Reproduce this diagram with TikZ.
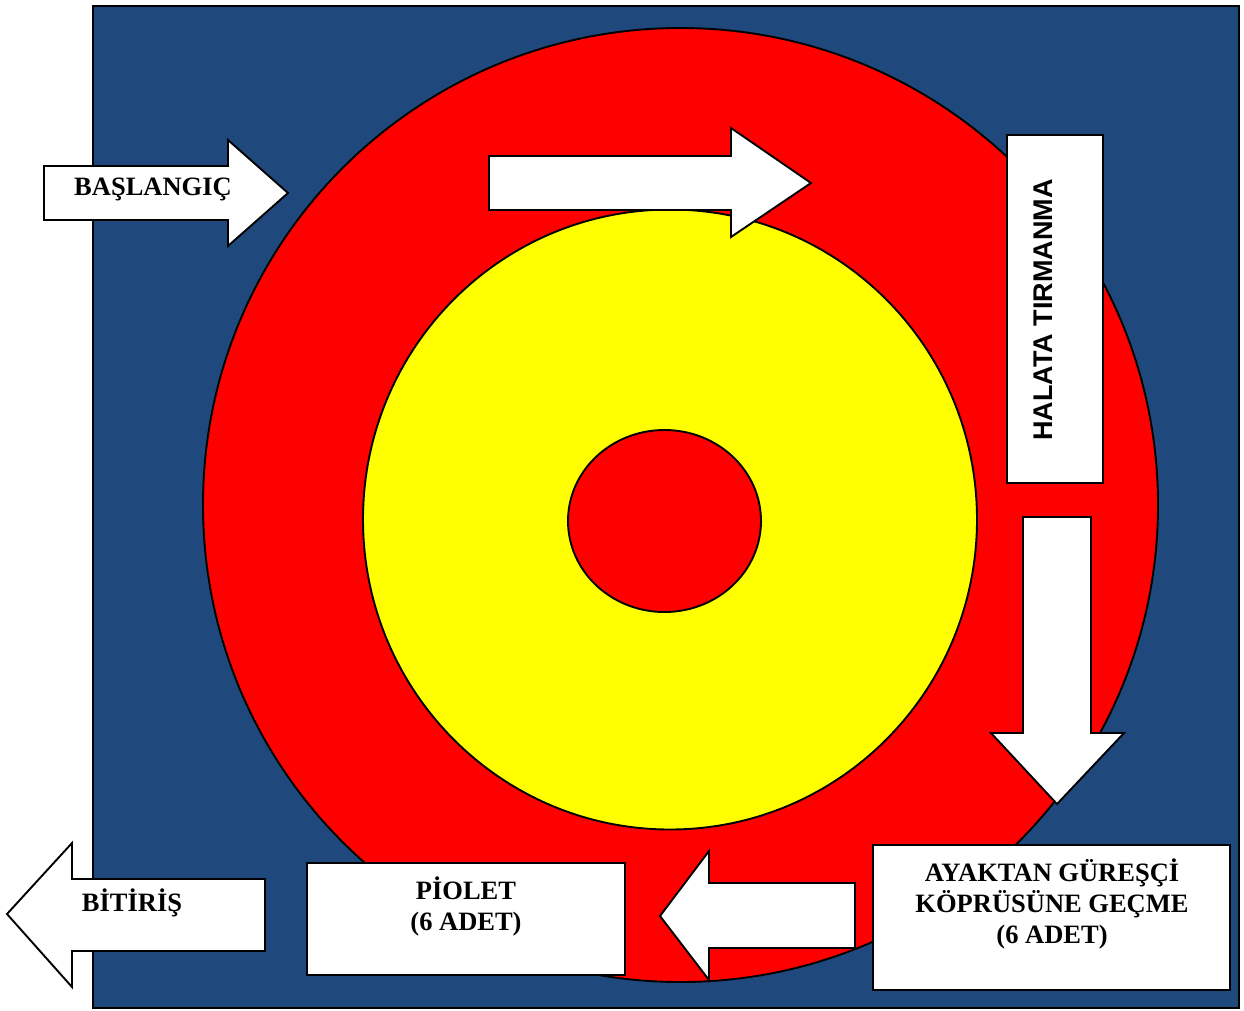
\documentclass[tikz,border=0pt]{standalone}
\usepackage{fontspec}
\setmainfont{Liberation Serif}
\newfontfamily\sansb{Liberation Sans}
\definecolor{bgblue}{RGB}{31,73,125}
\definecolor{rred}{RGB}{255,0,0}
\definecolor{yel}{RGB}{255,255,0}
\begin{document}
\begin{tikzpicture}[x=1pt,y=-1pt,line join=miter,
  outl/.style={draw=black,line width=1.9pt},
  box/.style={draw=black,line width=1.9pt,fill=white,inner sep=0pt},
  arrowshape/.style={draw=black,line width=1.9pt,fill=white},
  lbl/.style={font=\fontsize{26.5}{31}\selectfont\bfseries,align=center,inner sep=0pt}]
\useasboundingbox (0,0) rectangle (1244,1010);
\fill[white] (0,0) rectangle (1244,1010);
% background and rings
\draw[outl,fill=bgblue] (93,6) rectangle (1239,1008);
\draw[outl,fill=rred] (680.5,505) ellipse [x radius=477.5,y radius=477];
\draw[outl,fill=yel] (670,519.5) ellipse [x radius=307,y radius=310];
\draw[outl,fill=rred] (664.5,521) ellipse [x radius=96.5,y radius=91];
% arrows
\draw[arrowshape] (44,166) -- (228,166) -- (228,140) -- (288,193) -- (228,246) -- (228,220) -- (44,220) -- cycle;
\draw[arrowshape] (489,156) -- (731,156) -- (731,128) -- (811,183) -- (731,237) -- (731,210) -- (489,210) -- cycle;
\draw[arrowshape] (1023,517) -- (1091,517) -- (1091,733) -- (1124,733) -- (1057,804) -- (991,733) -- (1023,733) -- cycle;
\draw[arrowshape] (855,883) -- (709,883) -- (709,851) -- (660,916) -- (709,980) -- (709,948) -- (855,948) -- cycle;
\draw[arrowshape] (265,879) -- (72,879) -- (72,843) -- (7,914) -- (72,987) -- (72,951) -- (265,951) -- cycle;
% boxes
\node[box,minimum width=96pt,minimum height=348pt] (halatabox) at (1055,309) {};
\node[box,minimum width=318pt,minimum height=112pt] (pioletbox) at (466,919) {};
\node[box,minimum width=357pt,minimum height=145pt] (ayaktanbox) at (1051.5,917.5) {};
% labels
\node[lbl] (start) at (153,189) {BAŞLANGIÇ};
\node[lbl] (finish) at (132,903) {BİTİRİŞ};
\node[lbl,font=\sansb\fontsize{27}{31}\selectfont\bfseries,rotate=90] (halata) at (1043,310) {HALATA TIRMANMA};
\node[lbl] (piolet) at (466,906) {PİOLET\\(6 ADET)};
\node[lbl] (ayaktan) at (1052,904) {AYAKTAN GÜREŞÇİ\\KÖPRÜSÜNE GEÇME\\(6 ADET)};
\end{tikzpicture}
\end{document}
